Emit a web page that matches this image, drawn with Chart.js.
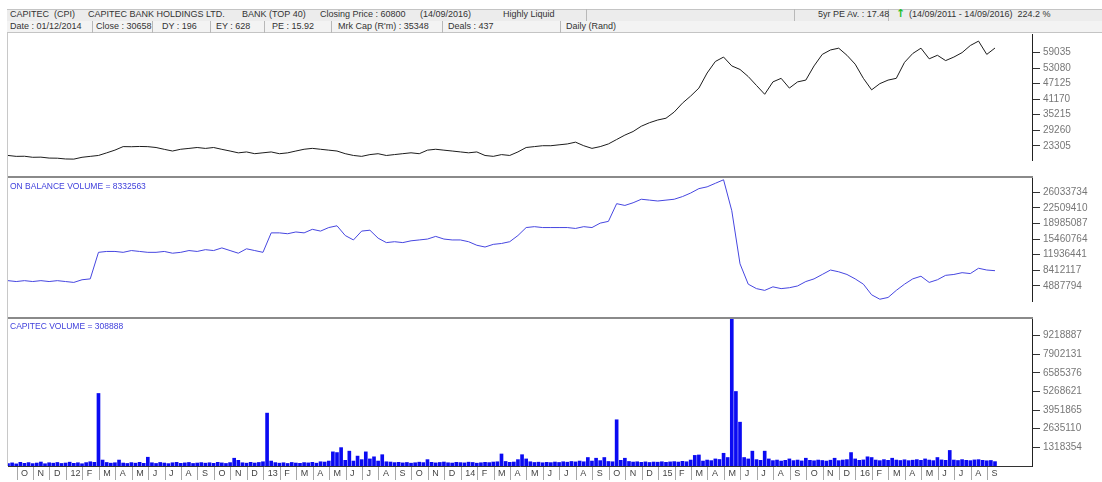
<!DOCTYPE html>
<html>
<head>
<meta charset="utf-8">
<script src="https://cdn.jsdelivr.net/npm/chart.js@4.4.1/dist/chart.umd.min.js"></script>
<style>
  body { margin: 0; width: 1102px; height: 482px; background: #fff; position: relative; overflow: hidden;
         font-family: "Liberation Sans", Arial, sans-serif; }
  .bar1 { position: absolute; left: 7px; top: 9px; width: 1095px; height: 11px; background: #ececec;
          border-top: 1px solid #c4c4c4; border-bottom: 1px solid #d0d0d0; }
  .bar2 { position: absolute; left: 7px; top: 21px; width: 1095px; height: 11px; background: #f3f3f3;
          border-bottom: 1px solid #c4c4c4; }
  .sep { position: absolute; width: 1px; background: #b8b8b8; }
  .t { position: absolute; font-size: 9px; line-height: 11px; color: #333; white-space: nowrap; }
  .lbl { position: absolute; left: 10px; font-size: 8.5px; color: #4040dc; white-space: nowrap; }
  .hline { position: absolute; left: 7px; width: 1026px; height: 2px; background: #8a8a8a; }
  .vline { position: absolute; left: 7px; top: 33px; width: 1px; height: 433px; background: #c8c8c8; }
  canvas { position: absolute; left: 0; }
</style>
</head>
<body>
<div class="bar1"></div>
<div class="bar2"></div>
<div class="sep" style="left:586px;top:9px;height:12px"></div>
<div class="sep" style="left:794px;top:9px;height:12px"></div>
<div class="sep" style="left:888px;top:9px;height:12px"></div>
<div class="sep" style="left:92px;top:21px;height:12px"></div>
<div class="sep" style="left:152px;top:21px;height:12px"></div>
<div class="sep" style="left:210px;top:21px;height:12px"></div>
<div class="sep" style="left:264px;top:21px;height:12px"></div>
<div class="sep" style="left:331px;top:21px;height:12px"></div>
<div class="sep" style="left:442px;top:21px;height:12px"></div>
<div class="sep" style="left:560px;top:21px;height:12px"></div>

<div class="t" style="left:10px;top:9px">CAPITEC</div>
<div class="t" style="left:54px;top:9px">(CPI)</div>
<div class="t" style="left:88px;top:9px">CAPITEC BANK HOLDINGS LTD.</div>
<div class="t" style="left:242px;top:9px">BANK (TOP 40)</div>
<div class="t" style="left:320px;top:9px">Closing Price : 60800</div>
<div class="t" style="left:420px;top:9px">(14/09/2016)</div>
<div class="t" style="left:503px;top:9px">Highly Liquid</div>
<div class="t" style="left:818px;top:9px">5yr PE Av. : 17.48</div>
<div class="t" style="left:896px;top:8px;font-size:11px;font-weight:bold;color:#1fbf2a;font-family:'DejaVu Sans'">↑</div>
<div class="t" style="left:909px;top:9px">(14/09/2011 - 14/09/2016)&nbsp;&nbsp;224.2 %</div>

<div class="t" style="left:10px;top:21px">Date : 01/12/2014</div>
<div class="t" style="left:96px;top:21px">Close : 30658</div>
<div class="t" style="left:162px;top:21px">DY : 196</div>
<div class="t" style="left:216px;top:21px">EY : 628</div>
<div class="t" style="left:272px;top:21px">PE : 15.92</div>
<div class="t" style="left:338px;top:21px">Mrk Cap (R'm) : 35348</div>
<div class="t" style="left:448px;top:21px">Deals : 437</div>
<div class="t" style="left:566px;top:21px">Daily (Rand)</div>

<canvas id="priceChart" width="1102" height="142" style="top:34px"></canvas>
<div class="hline" style="top:176px"></div>
<canvas id="obvChart" width="1102" height="139" style="top:178px"></canvas>
<div class="hline" style="top:317px"></div>
<canvas id="volChart" width="1102" height="163" style="top:319px"></canvas>
<div class="vline"></div>
<div class="lbl" style="top:181px">ON BALANCE VOLUME = 8332563</div>
<div class="lbl" style="top:321px">CAPITEC VOLUME = 308888</div>

<script>
// month labels, Oct 2011 .. Sep 2016
const monthLabels = [
  "O", "N", "D",
  "12", "F", "M", "A", "M", "J", "J", "A", "S", "O", "N", "D",
  "13", "F", "M", "A", "M", "J", "J", "A", "S", "O", "N", "D",
  "14", "F", "M", "A", "M", "J", "J", "A", "S", "O", "N", "D",
  "15", "F", "M", "A", "M", "J", "J", "A", "S", "O", "N", "D",
  "16", "F", "M", "A", "M", "J", "J", "A", "S",
];

// y axis tick labels
const priceTicks = [23305, 29260, 35215, 41170, 47125, 53080, 59035];
const obvTicks = [4887794, 8412117, 11936441, 15460764, 18985087, 22509410, 26033734];
const volumeTicks = [1318354, 2635110, 3951865, 5268621, 6585376, 7902131, 9218887];

// closing price, every half month from 14/09/2011
const priceValues = [
  19600, 19250, 19300, 18900, 18950, 18600, 18550, 18250, 18200, 18900,
  19250, 19600, 20600, 21650, 23000, 22950, 23050, 22980, 22650, 21950,
  21300, 21980, 22300, 22650, 22300, 22650, 21950, 21300, 20600, 20950,
  20280, 20620, 20950, 20270, 20600, 21300, 21980, 22320, 21970, 21640,
  21300, 20280, 19600, 19250, 19930, 20270, 19590, 19940, 20280, 20620,
  20270, 21640, 21980, 21630, 21300, 20960, 20610, 20950, 19590, 19260,
  19930, 19600, 20960, 22650, 23000, 23340, 23330, 23680, 24010, 24700,
  23330, 22320, 22990, 24020, 25720, 27410, 28780, 30820, 32170, 33200,
  33880, 36250, 39660, 42380, 45430, 51220, 55640, 57340, 53940, 52580,
  49860, 46460, 43060, 47820, 49180, 45440, 47820, 48500, 53940, 58360,
  60060, 60740, 58020, 54620, 49180, 44760, 47140, 48500, 49180, 55300,
  58700, 60740, 56660, 58020, 55980, 57340, 59040, 61760, 63460, 58360,
  60800,
];

// on balance volume, same dates
const obvValues = [
  6084734, 5885244, 6084734, 5885244, 6084734, 5885244, 6084734, 5885244, 5685754, 6284224,
  6483714, 12468414, 12667904, 12667904, 12468414, 12867394, 12667904, 12468414, 12468414, 12667904,
  12268924, 12468414, 12867394, 12667904, 13066884, 12867394, 13465864, 12867394, 12268924, 13266374,
  12867394, 12468414, 16857194, 16857194, 16657704, 17056684, 16857194, 17655154, 17256174, 18054134,
  18453114, 16258724, 15261274, 17256174, 17455664, 15660254, 14662804, 14862294, 14662804, 15061784,
  15261274, 15460764, 16059234, 15460764, 15261274, 15261274, 14862294, 14064334, 13665354, 14263824,
  14463314, 14862294, 16258724, 18054134, 18253624, 18054134, 18054134, 18054134, 18054134, 17854644,
  18253624, 18054134, 19051584, 19450564, 23440364, 23041384, 23639854, 24437814, 24238324, 24038834,
  24238324, 24437814, 25036284, 25834244, 26831694, 27230674, 28028634, 28826594, 21844444, 9875044,
  5286774, 4289324, 3890344, 4688304, 4289324, 4488814, 4887794, 5885244, 6483714, 7481164,
  8478614, 8079634, 7481164, 6483714, 5286774, 2892894, 1895444, 2294424, 3890344, 5286774,
  6483714, 7082184, 5685754, 6284224, 7281674, 7481164, 7880144, 7680654, 8877594, 8478614,
  8332563,
];

// daily volume, every quarter month from 14/09/2011
const volumeValues = [
  180000, 220000, 150000, 260000, 190000, 240000, 170000, 210000, 280000, 160000,
  230000, 200000, 250000, 180000, 210000, 270000, 190000, 230000, 160000, 240000,
  300000, 260000, 5130000, 420000, 250000, 200000, 230000, 420000, 210000, 180000,
  240000, 200000, 260000, 190000, 620000, 230000, 180000, 250000, 210000, 170000,
  230000, 260000, 190000, 220000, 250000, 180000, 210000, 240000, 200000, 230000,
  190000, 260000, 220000, 180000, 240000, 550000, 400000, 230000, 200000, 260000,
  210000, 250000, 300000, 3740000, 350000, 240000, 200000, 230000, 180000, 250000,
  210000, 190000, 240000, 220000, 260000, 200000, 300000, 280000, 350000, 1000000,
  950000, 1300000, 400000, 1050000, 350000, 700000, 450000, 1000000, 500000, 650000,
  350000, 800000, 300000, 280000, 240000, 260000, 220000, 250000, 200000, 230000,
  270000, 240000, 450000, 260000, 220000, 250000, 280000, 230000, 210000, 260000,
  240000, 220000, 270000, 250000, 200000, 230000, 260000, 240000, 280000, 300000,
  850000, 320000, 260000, 280000, 450000, 800000, 500000, 300000, 250000, 270000,
  230000, 260000, 240000, 280000, 250000, 300000, 270000, 320000, 290000, 350000,
  300000, 600000, 350000, 550000, 380000, 600000, 320000, 300000, 3270000, 400000,
  550000, 320000, 280000, 300000, 260000, 290000, 250000, 280000, 270000, 300000,
  260000, 290000, 310000, 280000, 330000, 300000, 420000, 750000, 780000, 350000,
  420000, 380000, 500000, 460000, 900000, 600000, 10400000, 5270000, 3100000, 600000,
  500000, 1050000, 450000, 400000, 1050000, 500000, 380000, 420000, 350000, 400000,
  500000, 380000, 420000, 360000, 550000, 400000, 370000, 420000, 390000, 350000,
  410000, 550000, 380000, 420000, 450000, 950000, 500000, 400000, 430000, 650000,
  600000, 420000, 380000, 450000, 400000, 550000, 420000, 390000, 440000, 380000,
  410000, 450000, 400000, 500000, 420000, 380000, 600000, 430000, 400000, 1100000,
  420000, 390000, 450000, 400000, 380000, 430000, 450000, 400000, 370000, 390000,
  308888,
];

// months since 1 Sep 2011 (14/09/2011 = 0.45)
const startMonth = 0.45;
const priceMonths = priceValues.map((_, i) => startMonth + i * 0.5);
const volumeMonths = volumeValues.map((_, i) => startMonth + i * 0.25);

const tickFont = { family: "Liberation Sans", size: 9 };

function xAxis(show) {
  return {
    type: "linear",
    display: show,
    min: startMonth,
    max: 62.7,
    offset: false,
    afterBuildTicks: (s) => {
      s.ticks = monthLabels.map((_, i) => ({ value: i + 1 }));
    },
    afterFit: (s) => {
      s.height = 16;
      s.paddingLeft = 0;
      s.paddingRight = 0;
    },
    grid: { offset: false, drawOnChartArea: false, tickLength: 14, color: "#a8a8a8" },
    border: { color: "#333" },
    ticks: {
      autoSkip: false,
      maxRotation: 0,
      align: "start",
      labelOffset: 4,
      padding: -12,
      color: "#444",
      font: tickFont,
      callback: (v) => monthLabels[v - 1],
    },
  };
}

function yAxis(min, max, tickValues) {
  return {
    position: "right",
    min: min,
    max: max,
    afterBuildTicks: (s) => {
      s.ticks = tickValues.map((v) => ({ value: v }));
    },
    afterFit: (s) => {
      s.width = 70;
      s.paddingTop = 0;
      s.paddingBottom = 0;
    },
    grid: { drawOnChartArea: false, tickLength: 8, color: "#333" },
    border: { color: "#222" },
    ticks: {
      padding: 3,
      color: "#777",
      font: { family: "Liberation Sans", size: 10 },
      callback: (v) => String(v),
    },
  };
}

const common = {
  responsive: false,
  animation: false,
  layout: { padding: { left: 8, right: 0, top: 0, bottom: 0 } },
  plugins: { legend: { display: false }, tooltip: { enabled: false } },
};

new Chart("priceChart", {
  type: "line",
  data: {
    datasets: [
      {
        data: priceValues.map((v, i) => ({ x: priceMonths[i], y: v })),
        borderColor: "#1c1c1c",
        borderWidth: 1,
        pointRadius: 0,
      },
    ],
  },
  options: Object.assign({}, common, {
    scales: { x: xAxis(false), y: yAxis(17859, 66181, priceTicks) },
  }),
});

new Chart("obvChart", {
  type: "line",
  data: {
    datasets: [
      {
        data: obvValues.map((v, i) => ({ x: priceMonths[i], y: v })),
        borderColor: "#4646e0",
        borderWidth: 1,
        pointRadius: 0,
      },
    ],
  },
  options: Object.assign({}, common, {
    scales: { x: xAxis(false), y: yAxis(1496464, 29225574, obvTicks) },
  }),
});

new Chart("volChart", {
  type: "bar",
  data: {
    datasets: [
      {
        data: volumeValues.map((v, i) => ({ x: volumeMonths[i], y: v })),
        backgroundColor: "#0b0bf2",
        barThickness: 3,
      },
    ],
  },
  options: Object.assign({}, common, {
    scales: { x: xAxis(true), y: yAxis(0, 10397000, volumeTicks) },
  }),
});
</script>
</body>
</html>
